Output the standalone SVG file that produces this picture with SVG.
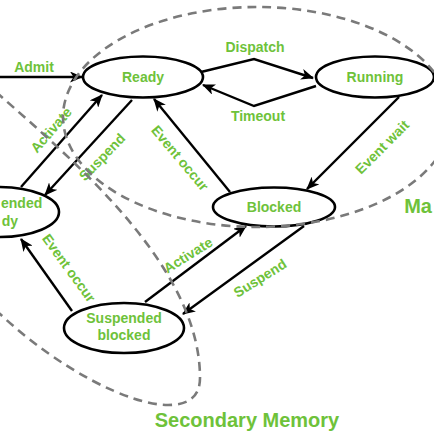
<svg xmlns="http://www.w3.org/2000/svg" width="434" height="434" viewBox="0 0 434 434">
<style>
.node{fill:#fff;stroke:#000;stroke-width:2.6}
.edge{fill:none;stroke:#000;stroke-width:2.4;marker-end:url(#arr)}
.bound{fill:none;stroke:#7a7a7a;stroke-width:2.6;stroke-dasharray:9 6}
.t{font-family:"Liberation Sans",Arial,sans-serif;font-weight:bold;font-size:14px;fill:#6ec23a;text-anchor:middle}
.big{font-size:20px}
.s{text-anchor:start}
.e{text-anchor:end}
</style>
<defs>
<marker id="arr" viewBox="0 0 13 11" refX="12" refY="5.5" markerWidth="13" markerHeight="11" markerUnits="userSpaceOnUse" orient="auto">
<path d="M0,0 L13,5.5 L0,11 L3.5,5.5 Z" fill="#000"/>
</marker>
</defs>
<rect width="434" height="434" fill="#fff"/>
<g id="connectors">
<path class="edge" d="M0,77 L82,77"/>
<path class="edge" d="M201,72 L254,59 L313,78"/>
<path class="edge" d="M316,86 L254,106 L203,85"/>
<path class="edge" d="M399,97 L307,189"/>
<path class="edge" d="M230,192 L154,99"/>
<path class="edge" d="M132,100 L45,195"/>
<path class="edge" d="M21,187 L102,95"/>
<path class="edge" d="M72,311 L21,239"/>
<path class="edge" d="M145,302 L246,226"/>
<path class="edge" d="M304,226 L183,314"/>
<text class="t" x="34" y="72">Admit</text>
<text class="t" x="255" y="52">Dispatch</text>
<text class="t" x="258" y="121">Timeout</text>
<text class="t" transform="translate(382,147) rotate(-45)" x="0" y="5">Event wait</text>
<text class="t" transform="translate(180,158) rotate(50)" x="0" y="5">Event occur</text>
<text class="t" transform="translate(102,157) rotate(-46)" x="0" y="5">Suspend</text>
<text class="t" transform="translate(51,130) rotate(-49)" x="0" y="5">Activate</text>
<text class="t" transform="translate(69,268) rotate(54)" x="0" y="5">Event occur</text>
<text class="t" transform="translate(188,255) rotate(-32)" x="0" y="5">Activate</text>
<text class="t" transform="translate(260,278) rotate(-32)" x="0" y="5">Suspend</text>
</g>
<g id="ready"><ellipse class="node" cx="143" cy="77" rx="60" ry="20.5"/><text class="t" x="143" y="82">Ready</text></g>
<g id="running"><ellipse class="node" cx="375" cy="77" rx="59" ry="20.5"/><text class="t" x="375" y="82">Running</text></g>
<g id="blocked"><ellipse class="node" cx="274" cy="207" rx="61" ry="19.5"/><text class="t" x="274" y="212">Blocked</text></g>
<g id="suspended-blocked"><ellipse class="node" cx="124" cy="328" rx="60" ry="25"/><text class="t" x="124" y="323">Suspended</text><text class="t" x="124" y="340">blocked</text></g>
<g id="suspended-ready"><ellipse class="node" cx="-1" cy="212" rx="60" ry="25"/><text class="t s" x="1" y="208">ended</text><text class="t e" x="18" y="226">dy</text></g>
<g id="main-memory">
<ellipse class="bound" cx="257" cy="117" rx="194" ry="110"/>
<text class="t big e" x="432" y="213">Ma</text>
</g>
<g id="secondary-memory">
<path class="bound" d="M-15,82 C60,150 200,260 200,378 Q200,405 168,405 C130,405 60,370 0,314 L-20,295"/>
<text class="t big" x="247" y="427">Secondary Memory</text>
</g>
</svg>
